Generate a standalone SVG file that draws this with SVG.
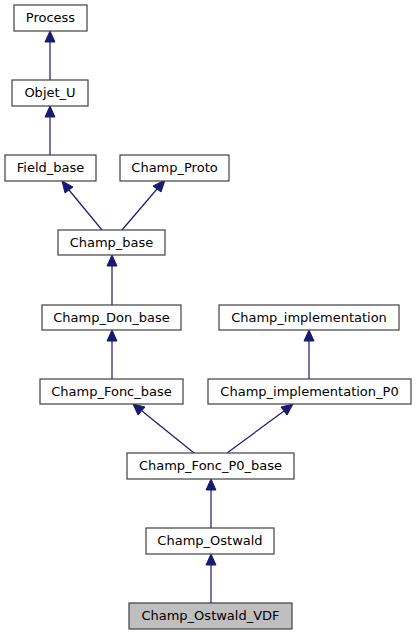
<svg xmlns="http://www.w3.org/2000/svg" width="416" height="635" viewBox="0 0 416 635">
<style>
.n rect{fill:#fff;stroke:#404040;stroke-width:1.2}
.n text{font-family:"DejaVu Sans",sans-serif;font-size:13px;fill:#000;text-anchor:middle}
.e line{stroke:#191970;stroke-width:1.2}
.e polygon{fill:#191970;stroke:#191970}
</style>
<rect width="416" height="635" fill="#fff"/>
<g class="e" id="edges">
<line x1="50" y1="80" x2="50" y2="42"/><polygon points="50,31 45,42 55,42"/>
<line x1="50" y1="155" x2="50" y2="117"/><polygon points="50,106 45,117 55,117"/>
<line x1="102" y1="230" x2="69" y2="190"/><polygon points="62,181 65,193 73,187"/>
<line x1="122" y1="230" x2="157" y2="189"/><polygon points="165,180 153,186 161,192"/>
<line x1="112" y1="305" x2="112" y2="266"/><polygon points="112,255 107,266 117,266"/>
<line x1="112" y1="379" x2="112" y2="341"/><polygon points="112,330 107,341 117,341"/>
<line x1="309" y1="379" x2="309" y2="341"/><polygon points="309,330 304,341 314,341"/>
<line x1="194" y1="453" x2="142" y2="411"/><polygon points="133,404 138,415 145,407"/>
<line x1="227" y1="453" x2="284" y2="411"/><polygon points="293,404 281,407 287,415"/>
<line x1="211" y1="528" x2="211" y2="490"/><polygon points="211,479 206,490 216,490"/>
<line x1="211" y1="603" x2="211" y2="565"/><polygon points="211,554 206,565 216,565"/>
</g>
<g class="n" id="Process"><rect x="14" y="5" width="73" height="26"/><text x="50.5" y="22">Process</text></g>
<g class="n" id="Objet_U"><rect x="12" y="80" width="76" height="26"/><text x="50" y="97">Objet_U</text></g>
<g class="n" id="Field_base"><rect x="5" y="155" width="91" height="26"/><text x="50.5" y="172">Field_base</text></g>
<g class="n" id="Champ_Proto"><rect x="120" y="155" width="109" height="26"/><text x="174.5" y="172">Champ_Proto</text></g>
<g class="n" id="Champ_base"><rect x="58" y="230" width="107" height="25"/><text x="111.5" y="247">Champ_base</text></g>
<g class="n" id="Champ_Don_base"><rect x="42" y="305" width="139" height="25"/><text x="111.5" y="322">Champ_Don_base</text></g>
<g class="n" id="Champ_implementation"><rect x="219" y="305" width="180" height="25"/><text x="309" y="322">Champ_implementation</text></g>
<g class="n" id="Champ_Fonc_base"><rect x="40" y="379" width="143" height="25"/><text x="111.5" y="396">Champ_Fonc_base</text></g>
<g class="n" id="Champ_implementation_P0"><rect x="208" y="379" width="203" height="25"/><text x="309.5" y="396">Champ_implementation_P0</text></g>
<g class="n" id="Champ_Fonc_P0_base"><rect x="127" y="453" width="167" height="26"/><text x="210.5" y="470">Champ_Fonc_P0_base</text></g>
<g class="n" id="Champ_Ostwald"><rect x="146" y="528" width="128" height="26"/><text x="210" y="545">Champ_Ostwald</text></g>
<g class="n" id="Champ_Ostwald_VDF"><rect x="129" y="603" width="163" height="26" style="fill:#bfbfbf"/><text x="210.5" y="620">Champ_Ostwald_VDF</text></g>
</svg>
